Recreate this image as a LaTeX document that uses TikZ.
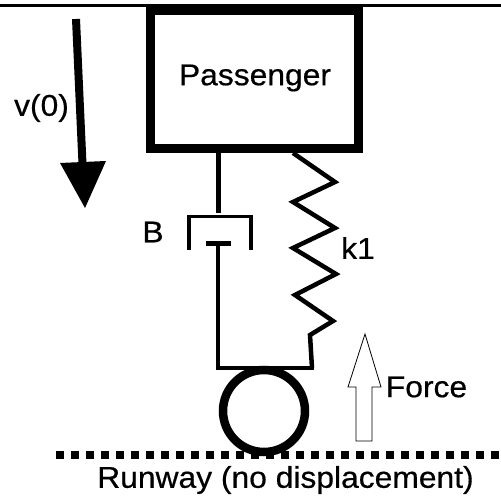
\documentclass[tikz,border=0pt]{standalone}
\usepackage{fontspec}
\setmainfont{Liberation Sans}[FakeBold=0.5]
\begin{document}
\begin{tikzpicture}[x=1pt,y=-1pt,
  lbl/.style={inner sep=0pt,font=\fontsize{30}{32}\selectfont,xscale=1.06,text=black},
  heavy/.style={line width=8.5pt,draw=black,fill=white,miter limit=10},
  wire/.style={line width=4.5pt,draw=black,line join=miter},
  hollow/.style={line width=0.8pt,draw=black,fill=white,line join=miter}]
\useasboundingbox (0,0) rectangle (501,497);
\fill[white] (0,0) rectangle (501,497);
% top rule
\coordinate (ruleL) at (0,5.5);
\coordinate (ruleR) at (501,5.5);
\draw[line width=2.5pt] (ruleL) -- (ruleR);
% passenger box
\node[heavy,draw,minimum width=208pt,minimum height=137.5pt,inner sep=0pt,anchor=center] (box) at (254.5,79.75) {};
\node[lbl] (passenger) at (255,78) {Passenger};
% wheel
\node[heavy,draw,circle,minimum size=82pt,inner sep=0pt] (wheel) at (264,411) {};
% damper
\coordinate (rodTop) at (218.5,153);
\coordinate (capMid) at (218.5,216.5);
\coordinate (capL) at (187,216.5);
\coordinate (capR) at (252,216.5);
\coordinate (wallL) at (189,250);
\coordinate (wallR) at (251,250);
\coordinate (pistL) at (206,243.5);
\coordinate (pistR) at (231,243.5);
\coordinate (pistM) at (218,243.5);
\coordinate (baseL) at (218,368);
\coordinate (baseR) at (312,368);
\draw[wire] (rodTop) -- (218.5,213);
\draw[line width=3.5pt] (capL) -- (capR);
\draw[line width=3.5pt] (189,215) -- (wallL);
\draw[line width=3.5pt] (251,215) -- (wallR);
\draw[wire] (pistL) -- (pistR);
\draw[wire,line cap=rect] (pistM) -- (baseL) -- (baseR);
% spring
\draw[wire] (293,153) -- (335,182) -- (293,202) -- (335,228) -- (293,248) -- (336,274) -- (295,295) -- (333,321) -- (310,335) -- (baseR);
% velocity arrow
\coordinate (vA) at (76,19);
\coordinate (vB) at (82.5,164);
\draw[line width=8pt] (vA) -- (vB);
\fill[black] (60,163) -- (106,161) -- (85,208) -- cycle;
% force arrow
\draw[hollow] (356,441) -- (356,387) -- (348,387) -- (365,334) -- (381,387) -- (372,387) -- (372,441) -- cycle;
% runway
\coordinate (runL) at (56,455);
\coordinate (runR) at (501,455);
\draw[line width=8pt,dash pattern=on 8pt off 7pt] (runL) -- (runR);
% labels
\node[lbl] (v0) at (41.5,108) {v(0)};
\node[lbl] (b) at (153,232) {B};
\node[lbl] (k1) at (358,248) {k1};
\node[lbl] (force) at (426.5,387) {Force};
\node[lbl] (runway) at (285.5,480) {Runway (no displacement)};
\end{tikzpicture}
\end{document}
